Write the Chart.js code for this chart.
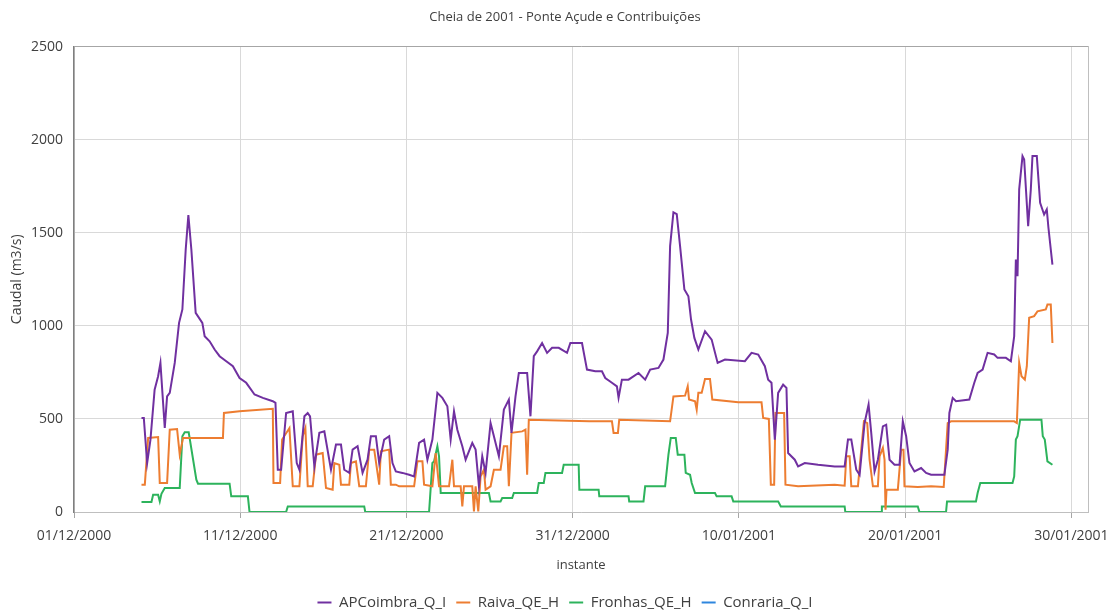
<!DOCTYPE html>
<html>
<head>
<meta charset="utf-8">
<title>Cheia de 2001 - Ponte Açude e Contribuições</title>
<script src="https://cdn.jsdelivr.net/npm/chart.js@4.4.1/dist/chart.umd.min.js"></script>
<style>
  html, body { margin: 0; padding: 0; background: #fff; }
</style>
</head>
<body>
<canvas id="myChart" width="1110" height="614"></canvas>
<script>
// x values are days since 01/12/2000 00:00
const xTickLabels = ['01/12/2000', '11/12/2000', '21/12/2000', '31/12/2000', '10/01/2001', '20/01/2001', '30/01/2001'];
const yTicks = [0, 500, 1000, 1500, 2000, 2500];

// APCoimbra_Q_I
const apDays = [4.06, 4.2, 4.4, 4.6, 4.85, 5.06, 5.2, 5.46, 5.6, 5.76, 6.06, 6.32, 6.52, 6.72, 6.88, 7.06, 7.32, 7.52, 7.72, 7.86,
  8.16, 8.46, 8.76, 9.16, 9.56, 9.96, 10.36, 10.86, 11.36, 11.96, 12.12, 12.26, 12.46, 12.76, 13.16, 13.4, 13.56, 13.86, 14.06, 14.2,
  14.46, 14.76, 15.06, 15.46, 15.76, 16.06, 16.26, 16.56, 16.76, 17.06, 17.36, 17.66, 17.86, 18.16, 18.36, 18.66, 18.96, 19.16, 19.36, 19.76,
  20.16, 20.46, 20.76, 21.06, 21.26, 21.56, 21.86, 22.16, 22.46, 22.66, 22.86, 23.06, 23.36, 23.56, 23.96, 24.16, 24.36, 24.56, 24.76, 25.06,
  25.26, 25.56, 25.86, 26.16, 26.32, 26.56, 26.76, 27.26, 27.46, 27.66, 27.86, 28.16, 28.46, 28.76, 29.16, 29.66, 29.86, 30.56, 30.86, 31.36,
  31.76, 31.96, 32.36, 32.66, 32.76, 32.96, 33.36, 33.96, 34.36, 34.66, 35.16, 35.46, 35.72, 35.86, 36.06, 36.26, 36.46, 36.72, 36.96, 37.12,
  37.32, 37.56, 37.96, 38.36, 38.72, 39.16, 40.36, 40.76, 41.16, 41.56, 41.76, 41.96, 42.16, 42.36, 42.66, 42.86, 42.96, 43.36, 43.56, 43.96,
  44.76, 45.76, 46.36, 46.56, 46.76, 47.06, 47.26, 47.56, 47.8, 47.96, 48.16, 48.36, 48.66, 48.86, 49.06, 49.36, 49.66, 49.86, 50.06, 50.26,
  50.56, 50.96, 51.26, 51.56, 52.36, 52.56, 52.66, 52.86, 53.06, 53.86, 54.16, 54.36, 54.66, 54.96, 55.36, 55.56, 56.06, 56.36, 56.56, 56.66,
  56.76, 56.86, 57.06, 57.16, 57.4, 57.56, 57.66, 57.92, 58.12, 58.36, 58.52, 58.62, 58.86];
const apFlow = [505, 505, 263, 389, 657, 729, 801, 451, 621, 640, 801, 1016, 1088, 1410, 1595, 1410, 1070, 1043, 1016, 944,
  917, 873, 837, 810, 783, 720, 694, 631, 613, 595, 586, 227, 227, 532, 541, 263, 227, 514, 532, 514,
  245, 425, 433, 227, 362, 362, 227, 210, 335, 353, 210, 281, 407, 407, 263, 389, 407, 263, 218, 210,
  200, 191, 371, 389, 281, 389, 640, 613, 568, 389, 541, 442, 353, 281, 371, 335, 138, 299, 210, 478,
  407, 299, 550, 604, 425, 621, 747, 747, 514, 837, 863, 908, 855, 882, 882, 855, 908, 908, 765, 756,
  756, 720, 694, 675, 613, 711, 711, 747, 711, 765, 774, 819, 962, 1428, 1610, 1600, 1428, 1195, 1159, 1034,
  935, 873, 971, 926, 801, 819, 810, 855, 846, 783, 711, 694, 389, 640, 684, 667, 317, 281, 245, 263,
  254, 245, 245, 389, 389, 227, 200, 478, 577, 425, 218, 281, 460, 469, 281, 254, 254, 487, 407, 263,
  218, 236, 210, 200, 200, 335, 532, 613, 595, 604, 694, 747, 765, 855, 846, 828, 828, 810, 944, 1356,
  1267, 1733, 1912, 1894, 1535, 1733, 1912, 1912, 1661, 1598, 1625, 1527, 1329];

// Raiva_QE_H
const raivaDays = [4.06, 4.26, 4.46, 5.06, 5.16, 5.6, 5.76, 6.2, 6.36, 6.56, 8.96, 9.02, 9.96, 11.96, 12.0, 12.4, 12.52, 12.96, 13.16, 13.56,
  13.76, 13.92, 14.06, 14.36, 14.56, 14.96, 15.16, 15.56, 15.66, 15.96, 16.06, 16.56, 16.66, 16.96, 17.16, 17.56, 17.76, 18.06, 18.36, 18.46,
  18.96, 19.06, 19.36, 19.56, 20.46, 20.66, 20.96, 21.06, 21.56, 21.76, 21.96, 22.56, 22.76, 22.86, 23.26, 23.36, 23.46, 23.96, 24.06, 24.16,
  24.32, 24.46, 24.66, 24.76, 25.06, 25.26, 25.66, 25.86, 26.06, 26.16, 26.32, 26.96, 27.16, 27.26, 27.36, 31.0, 32.36, 32.46, 32.72, 32.8,
  35.86, 36.06, 36.76, 36.92, 37.0, 37.36, 37.46, 37.56, 37.76, 37.96, 38.26, 38.4, 39.96, 41.36, 41.46, 41.8, 41.92, 42.12, 42.2, 42.72,
  42.8, 43.56, 45.76, 46.36, 46.46, 46.66, 46.76, 47.16, 47.36, 47.52, 47.72, 47.86, 48.06, 48.36, 48.46, 48.66, 48.76, 48.82, 48.88, 49.56,
  49.76, 49.9, 49.96, 50.76, 51.56, 52.32, 52.56, 52.76, 56.56, 56.72, 56.86, 57.0, 57.2, 57.32, 57.46, 57.76, 57.96, 58.46, 58.56, 58.76,
  58.86];
const raivaFlow = [147, 147, 398, 403, 156, 156, 442, 446, 308, 398, 398, 532, 541, 554, 156, 156, 389, 451, 138, 138,
  407, 451, 138, 138, 308, 317, 129, 120, 263, 254, 147, 147, 263, 272, 138, 138, 335, 335, 147, 326,
  335, 147, 147, 138, 138, 272, 272, 147, 138, 317, 138, 138, 281, 138, 138, 30, 138, 138, 3, 138,
  3, 191, 227, 120, 138, 227, 227, 353, 353, 138, 425, 433, 442, 200, 496, 487, 487, 425, 425, 496,
  487, 621, 625, 675, 604, 595, 550, 640, 640, 715, 715, 604, 589, 589, 505, 500, 147, 147, 532, 532,
  147, 138, 147, 141, 299, 299, 138, 138, 335, 487, 478, 281, 138, 138, 299, 344, 281, 12, 120, 120,
  335, 335, 138, 134, 138, 134, 478, 487, 487, 478, 801, 729, 711, 783, 1043, 1052, 1078, 1088, 1114, 1114,
  908];

// Fronhas_QE_H
const fronhasDays = [4.06, 4.66, 4.76, 5.06, 5.16, 5.26, 5.46, 6.36, 6.52, 6.66, 6.9, 7.36, 7.46, 9.36, 9.46, 10.46, 10.56, 12.76, 12.86, 17.46,
  17.52, 21.36, 21.56, 21.66, 21.86, 21.96, 22.06, 24.96, 25.06, 25.66, 25.76, 26.36, 26.46, 27.86, 27.96, 28.26, 28.36, 29.36, 29.46, 30.36,
  30.4, 31.56, 31.6, 33.36, 33.4, 34.26, 34.36, 35.56, 35.76, 35.9, 36.2, 36.32, 36.72, 36.8, 37.06, 37.16, 37.36, 38.56, 38.66, 39.56,
  39.66, 42.36, 42.52, 46.36, 46.4, 48.56, 48.6, 50.76, 50.86, 52.46, 52.52, 54.26, 54.36, 54.52, 56.46, 56.56, 56.66, 56.76, 56.92, 58.2,
  58.28, 58.4, 58.56, 58.86];
const fronhasFlow = [54, 54, 93, 93, 57, 98, 129, 129, 407, 428, 428, 174, 152, 152, 84, 84, 0, 0, 30, 30,
  0, 0, 263, 272, 353, 299, 102, 102, 57, 57, 75, 75, 102, 102, 156, 156, 210, 210, 254, 254,
  120, 120, 84, 84, 57, 57, 138, 138, 308, 398, 398, 308, 308, 210, 200, 156, 102, 102, 84, 84,
  57, 57, 30, 30, 0, 0, 30, 30, 0, 0, 57, 57, 102, 156, 156, 191, 389, 407, 496, 496,
  407, 389, 272, 254];

// Conraria_Q_I (no values shown in the chart)
const conrariaDays = [];
const conrariaFlow = [];

const seriesNames = ['APCoimbra_Q_I', 'Raiva_QE_H', 'Fronhas_QE_H', 'Conraria_Q_I'];
const seriesColors = ['#7030A0', '#ED7D31', '#2DB35C', '#2E86DE'];

const fontFamily = "'Open Sans', sans-serif";
const textColor = '#404040';
const legendPadBottom = -6;

function toPoints(days, values) {
    return days.map(function (d, i) { return { x: d, y: values[i] }; });
}

const ctx = document.getElementById('myChart');

const allDays = [apDays, raivaDays, fronhasDays, conrariaDays];
const allFlows = [apFlow, raivaFlow, fronhasFlow, conrariaFlow];
const datasets = seriesNames.map(function (name, i) {
    return {
        label: name,
        data: toPoints(allDays[i], allFlows[i]),
        borderColor: seriesColors[i],
        backgroundColor: seriesColors[i],
        borderWidth: 2,
        pointRadius: 0,
        pointStyle: 'line',
        tension: 0,
        fill: false
    };
});

new Chart(ctx, {
    type: 'line',
    data: { datasets: datasets },
    options: {
        responsive: false,
        animation: false,
        layout: { padding: { left: 20, right: 0, top: 0, bottom: legendPadBottom } },
        plugins: {
            title: {
                display: true,
                text: 'Cheia de 2001 - Ponte Açude e Contribuições',
                color: textColor,
                font: { family: fontFamily, size: 13, weight: 'normal' },
                padding: { top: 9, bottom: 22 }
            },
            legend: {
                position: 'bottom',
                labels: {
                    usePointStyle: true,
                    pointStyleWidth: 14,
                    color: textColor,
                    font: { family: fontFamily, size: 15 },
                    padding: 10
                }
            },
            tooltip: { enabled: false }
        },
        scales: {
            x: {
                type: 'linear',
                min: 0,
                max: 61,
                ticks: {
                    stepSize: 10,
                    includeBounds: false,
                    autoSkip: false,
                    maxRotation: 0,
                    padding: 10,
                    color: textColor,
                    font: { family: fontFamily, size: 14 },
                    callback: function (v) { return xTickLabels[Math.round(v / 10)]; }
                },
                grid: { color: '#d9d9d9', tickLength: 6, tickColor: '#a6a6a6' },
                border: { color: '#bfbfbf' },
                title: {
                    display: true,
                    text: 'instante',
                    color: textColor,
                    font: { family: fontFamily, size: 13 },
                    padding: { top: 0, bottom: 12 }
                },
                afterFit: function (s) {
                    s.height = 614 - 512 - s.chart.legend.height - legendPadBottom;
                    s.paddingLeft = 0;
                    s.paddingRight = 0;
                }
            },
            y: {
                min: 0,
                max: 2500,
                afterBuildTicks: function (s) { s.ticks = yTicks.map(function (v) { return { value: v }; }); },
                ticks: {
                    padding: 11,
                    color: textColor,
                    font: { family: fontFamily, size: 14 },
                    callback: function (v) { return String(v); }
                },
                grid: {
                    drawTicks: false,
                    color: function (c) { return c.tick && c.tick.value === 2500 ? '#a6a6a6' : '#d9d9d9'; }
                },
                border: { color: '#7f7f7f', width: 1.5 },
                title: {
                    display: true,
                    text: 'Caudal (m3/s)',
                    color: textColor,
                    font: { family: fontFamily, size: 14 },
                    padding: { top: -11, bottom: 0 }
                },
                afterFit: function (s) { s.width = 54; }
            },
            yRight: {
                position: 'right',
                min: 0,
                max: 2500,
                ticks: { display: false },
                grid: { display: false, drawOnChartArea: false },
                border: { display: true, color: '#bfbfbf' },
                afterFit: function (s) { s.width = 22; }
            }
        }
    }
});
</script>
</body>
</html>
